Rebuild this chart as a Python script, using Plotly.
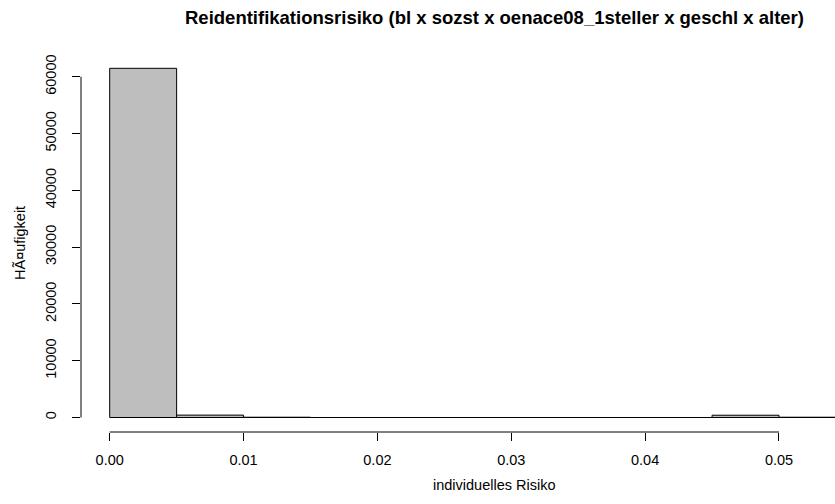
import plotly.graph_objects as go

# histogram bins (breaks) and counts
bin_starts = [0.000, 0.005, 0.010, 0.015, 0.020, 0.025, 0.030, 0.035, 0.040, 0.045, 0.050]
bin_width = 0.005
counts = [61490, 420, 50, 0, 0, 0, 0, 0, 0, 400, 50]

x_ticks = [0.00, 0.01, 0.02, 0.03, 0.04, 0.05]
x_ticklabels = ["0.00", "0.01", "0.02", "0.03", "0.04", "0.05"]
y_ticks = [0, 10000, 20000, 30000, 40000, 50000, 60000]
y_ticklabels = ["0", "10000", "20000", "30000", "40000", "50000", "60000"]

title_text = "Reidentifikationsrisiko (bl x sozst x oenace08_1steller x geschl x alter)"
x_title = "individuelles Risiko"
y_title = "HÃ¤ufigkeit"

FONT = "Liberation Sans, Arial, Helvetica, sans-serif"

centers = [s + bin_width / 2 for s in bin_starts]

fig = go.Figure()
fig.add_trace(go.Bar(
    x=centers, y=counts, width=[bin_width] * len(centers),
    marker=dict(color="#BEBEBE", line=dict(color="black", width=1)),
    hoverinfo="skip",
))

W, H = 835, 504
ml, mr, mt, mb = 81, 0, 54, 72

fig.update_layout(
    width=W, height=H,
    margin=dict(l=ml, r=mr, t=mt, b=mb, pad=0),
    paper_bgcolor="white", plot_bgcolor="white",
    showlegend=False,
    font=dict(family=FONT, size=14.5, color="black"),
    bargap=0,
    xaxis=dict(
        range=[-0.002144, 0.054184],
        tickmode="array", tickvals=x_ticks, ticktext=x_ticklabels,
        ticks="outside", ticklen=8, tickcolor="black", tickwidth=1,
        showgrid=False, zeroline=False, showline=False,
        tickfont=dict(size=14.5), ticklabelstandoff=7,
    ),
    yaxis=dict(
        range=[-2553, 64008],
        tickmode="array", tickvals=y_ticks, ticktext=y_ticklabels,
        ticks="outside", ticklen=8, tickcolor="black", tickwidth=1,
        showgrid=False, zeroline=False, showline=False,
        tickangle=-90, tickfont=dict(size=14.5), ticklabelstandoff=10,
    ),
)

# R-style axis lines spanning only from first to last tick
fig.add_shape(type="line", xref="x", yref="paper",
              x0=x_ticks[0], x1=x_ticks[-1], y0=0, y1=0,
              line=dict(color="black", width=1))
fig.add_shape(type="line", xref="paper", yref="y",
              x0=0, x1=0, y0=y_ticks[0], y1=y_ticks[-1],
              line=dict(color="black", width=1))

pw = W - ml - mr
ph = H - mt - mb
title_cx = (494 - ml) / pw

fig.add_annotation(text="<b>" + title_text + "</b>", xref="paper", yref="paper",
                   x=title_cx, y=1 + (mt - 18) / ph, showarrow=False,
                   xanchor="center", yanchor="middle",
                   font=dict(family=FONT, size=18.5, color="black"))
fig.add_annotation(text=x_title, xref="paper", yref="paper",
                   x=title_cx, y=-(485 - (H - mb)) / ph, showarrow=False,
                   xanchor="center", yanchor="middle",
                   font=dict(family=FONT, size=14.5, color="black"))
fig.add_annotation(text=y_title, xref="paper", yref="paper",
                   x=-(ml - 20) / pw, y=0.5, showarrow=False, textangle=-90,
                   xanchor="center", yanchor="middle",
                   font=dict(family=FONT, size=14.5, color="black"))

fig.write_html("out.html", config={"displayModeBar": False, "staticPlot": True},
               post_script="document.body.style.margin='0';document.body.style.padding='0';")
